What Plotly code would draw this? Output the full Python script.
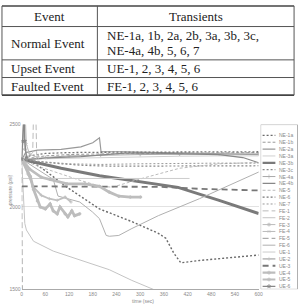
import plotly.graph_objects as go

W, H = 302, 308
def PX(x): return x / W
def PY(y): return 1 - y / H

# ---------------- table data ----------------
table_header = ["Event", "Transients"]
event_names = ["Normal Event", "Upset Event", "Faulted Event"]
transient_text = [["NE-1a, 1b, 2a, 2b, 3a, 3b, 3c,", "NE-4a, 4b, 5, 6, 7"],
                  ["UE-1, 2, 3, 4, 5, 6"],
                  ["FE-1, 2, 3, 4, 5, 6"]]

# ---------------- chart data ----------------
x_ticks = [0, 60, 120, 180, 240, 300, 360, 420, 480, 540, 600]
y_ticks = [1500, 2000, 2500]

names = ["NE-1a", "NE-1b", "NE-2a", "NE-3a", "NE-3b", "NE-3c", "NE-4a", "NE-4b",
         "NE-5", "NE-6", "NE-7", "FE-1", "FE-2", "FE-3", "FE-4", "FE-5", "FE-6",
         "UE-1", "UE-2", "UE-3", "UE-4", "UE-5", "UE-6"]

t_ne1a = [0, 30, 60, 115, 197, 279, 346, 365, 385, 403, 450, 500, 550, 600]
p_ne1a = [2290, 2268, 2220, 2119, 1988, 1911, 1840, 1810, 1720, 1661, 1675, 1685, 1695, 1708]
t_ne1b = [0, 30, 60, 120, 200, 300, 400, 500, 600]
p_ne1b = [2285, 2300, 2310, 2318, 2322, 2325, 2328, 2330, 2330]
t_ne2a = [0, 10, 40, 100, 150, 180, 197, 201, 260, 360, 460, 600]
p_ne2a = [2285, 2330, 2345, 2350, 2365, 2390, 2420, 2335, 2335, 2330, 2325, 2318]
t_ne3a = [0, 100, 200, 300, 400, 500, 600]
p_ne3a = [2290, 2295, 2300, 2305, 2308, 2310, 2310]
t_ne3b = [0, 100, 197, 300, 396, 500, 600]
p_ne3b = [2290, 2235, 2190, 2155, 2119, 2040, 1960]
t_ne3c = [0, 40, 100, 160, 220, 300, 400, 500, 600]
p_ne3c = [2285, 2275, 2262, 2252, 2248, 2248, 2248, 2250, 2250]
t_ne4a = [0, 60, 120, 200, 300, 400, 500, 600]
p_ne4a = [2285, 2300, 2310, 2315, 2318, 2320, 2322, 2322]
t_ne4b = [0, 30, 80, 150, 220, 260, 300, 400, 500, 560, 600]
p_ne4b = [2285, 2290, 2300, 2305, 2318, 2327, 2328, 2325, 2318, 2300, 2268]
t_ne5 = [0, 50, 100, 150, 200, 230, 300, 400, 500, 600]
p_ne5 = [2285, 2240, 2200, 2160, 2125, 2120, 2170, 2235, 2262, 2270]
t_ne6 = [0, 20, 60, 120, 200, 300, 400, 500, 600]
p_ne6 = [2285, 2310, 2325, 2330, 2332, 2333, 2335, 2335, 2335]
t_ne7 = [0, 50, 120, 200, 300, 400, 500, 600]
p_ne7 = [2290, 2275, 2262, 2258, 2262, 2265, 2266, 2266]
t_fe1 = [0, 15, 28, 30, 36, 38, 50, 70]
p_fe1 = [2290, 2300, 2330, 2560, 2560, 2320, 2300, 2290]
t_fe2 = [0, 4, 8, 12, 30, 80, 154, 222, 279, 339, 360]
p_fe2 = [2290, 2100, 1900, 1860, 1792, 1732, 1673, 1619, 1554, 1494, 1480]
t_fe3 = [0, 3, 5, 8, 15]
p_fe3 = [2290, 2560, 2560, 2350, 2300]
t_fe4 = [0, 6, 9, 12, 20, 40]
p_fe4 = [2290, 2560, 2560, 2380, 2320, 2300]
t_fe5 = [0, 0.5, 1.5]
p_fe5 = [2290, 2125, 1480]
t_fe6 = [0, 40, 80, 92, 147, 179, 197, 214, 222, 246, 279, 346, 450, 602]
p_fe6 = [2290, 2230, 2167, 2066, 2030, 1970, 1929, 1827, 1822, 1827, 1869, 1947, 2050, 2214]
t_ue1 = [0, 425]
p_ue1 = [2173, 2173]
t_ue2 = [0, 15, 30, 50, 70, 90, 110, 125]
p_ue2 = [2290, 2200, 2120, 2070, 2050, 2040, 2060, 2030]
t_ue3 = [0, 100, 200, 300, 350, 450, 600]
p_ue3 = [2125, 2125, 2125, 2125, 2122, 2110, 2100]
t_ue4 = [0, 5, 22, 30, 40, 47, 60, 72, 80, 90, 97, 110, 117, 127, 134, 147]
p_ue4 = [2290, 2268, 2185, 2107, 2036, 2000, 1988, 2018, 1976, 1958, 2000, 1958, 1940, 1976, 1947, 1958]
t_ue5 = [0, 20, 50, 72, 115, 160, 197, 222, 246, 275, 301]
p_ue5 = [2290, 2230, 2180, 2167, 2140, 2140, 2125, 2090, 2065, 2060, 2060]
t_ue6 = [0, 2, 4, 6, 8, 12]
p_ue6 = [2290, 2400, 2560, 2560, 2400, 2300]

series_t = [t_ne1a, t_ne1b, t_ne2a, t_ne3a, t_ne3b, t_ne3c, t_ne4a, t_ne4b, t_ne5, t_ne6, t_ne7,
            t_fe1, t_fe2, t_fe3, t_fe4, t_fe5, t_fe6, t_ue1, t_ue2, t_ue3, t_ue4, t_ue5, t_ue6]
series_p = [p_ne1a, p_ne1b, p_ne2a, p_ne3a, p_ne3b, p_ne3c, p_ne4a, p_ne4b, p_ne5, p_ne6, p_ne7,
            p_fe1, p_fe2, p_fe3, p_fe4, p_fe5, p_fe6, p_ue1, p_ue2, p_ue3, p_ue4, p_ue5, p_ue6]

# style: (color, width, dash, marker symbol or None)
styles = [
    ("#6a6a6a", 1.4, "2px,2px", None),      # NE-1a
    ("#999999", 1.0, "3px,2px", None),      # NE-1b
    ("#999999", 1.2, "solid", None),        # NE-2a
    ("#d0d0d0", 1.0, "solid", None),        # NE-3a
    ("#7a7a7a", 3.0, "solid", None),        # NE-3b
    ("#888888", 1.2, "2px,2px", None),      # NE-3c
    ("#aaaaaa", 1.0, "solid", "cross-thin-open"),  # NE-4a
    ("#888888", 1.2, "solid", None),        # NE-4b
    ("#bbbbbb", 1.0, "3px,2px", None),      # NE-5
    ("#777777", 1.3, "2px,2px", None),      # NE-6
    ("#999999", 1.0, "2px,2px", None),      # NE-7
    ("#bbbbbb", 1.0, "6px,3px", None),      # FE-1
    ("#c4c4c4", 1.0, "solid", None),        # FE-2
    ("#bbbbbb", 1.0, "solid", "circle"),    # FE-3
    ("#bbbbbb", 1.0, "solid", "x-thin-open"),  # FE-4
    ("#999999", 1.0, "6px,3px", None),      # FE-5
    ("#b0b0b0", 1.0, "solid", None),        # FE-6
    ("#cccccc", 1.0, "solid", None),        # UE-1
    ("#c0c0c0", 1.8, "solid", "cross-thin-open"),  # UE-2
    ("#777777", 1.8, "6px,4px", None),      # UE-3
    ("#bdbdbd", 2.8, "solid", "circle"),    # UE-4
    ("#bdbdbd", 2.8, "solid", "circle"),    # UE-5
    ("#888888", 1.3, "solid", "star"),      # UE-6
]

fig = go.Figure()

# ---- main chart traces ----
for name, t, p, (c, w, d, m) in zip(names, series_t, series_p, styles):
    mode = "lines+markers" if m else "lines"
    fig.add_trace(go.Scatter(
        x=t, y=p, mode=mode, name=name, showlegend=False,
        line=dict(color=c, width=w, dash=d),
        marker=dict(symbol=m or "circle", size=2.5, color=c, line=dict(color=c, width=0.8)),
        xaxis="x", yaxis="y", cliponaxis=True))

# ---- custom legend (drawn in a second axis) ----
for i, (name, (c, w, d, m)) in enumerate(zip(names, styles)):
    lw = min(w, 2.2)
    fig.add_trace(go.Scatter(
        x=[2, 8.5, 15], y=[i, i, i], mode="lines+markers" if m else "lines",
        showlegend=False, hoverinfo="skip",
        line=dict(color=c, width=lw, dash=d),
        marker=dict(symbol=m or "circle", size=[0, 3, 0], color=c, line=dict(color=c, width=0.8)),
        xaxis="x2", yaxis="y2"))

annotations = []
shapes = []
for i, name in enumerate(names):
    annotations.append(dict(x=16.5, y=i, xref="x2", yref="y2", text=name, showarrow=False,
                            xanchor="left", yanchor="middle",
                            font=dict(family="Liberation Sans", size=5, color="#8a8a8a")))
shapes.append(dict(type="rect", xref="x2", yref="y2", x0=0, x1=37.5, y0=-1.57, y1=22.43,
                   line=dict(color="#b0b0b0", width=1)))

# ---- table (shapes + text) ----
tbl_l, tbl_div, tbl_r = 1, 98, 298
row_lines = [3, 24, 58, 76, 94]
line_col = "#555555"
for k, y in enumerate(row_lines):
    shapes.append(dict(type="line", xref="paper", yref="paper",
                       x0=PX(tbl_l), x1=PX(tbl_r), y0=PY(y), y1=PY(y),
                       line=dict(color="#444444" if k in (0, 4) else line_col,
                                 width=1.6 if k in (0, 4) else 1)))
for x in (tbl_l, tbl_div, tbl_r):
    shapes.append(dict(type="line", xref="paper", yref="paper",
                       x0=PX(x), x1=PX(x), y0=PY(row_lines[0]), y1=PY(row_lines[-1]),
                       line=dict(color=line_col, width=1)))

tfont = dict(family="Liberation Serif", size=13, color="#222222")
annotations.append(dict(x=PX((tbl_l + tbl_div) / 2), y=PY(14), xref="paper", yref="paper",
                        text=table_header[0], showarrow=False, xanchor="center", yanchor="middle", font=tfont))
annotations.append(dict(x=PX((tbl_div + tbl_r) / 2), y=PY(14), xref="paper", yref="paper",
                        text=table_header[1], showarrow=False, xanchor="center", yanchor="middle", font=tfont))
row_centers = [41, 67, 85]
for name, lines, yc in zip(event_names, transient_text, row_centers):
    annotations.append(dict(x=PX(8), y=PY(yc), xref="paper", yref="paper", text=name,
                            showarrow=False, xanchor="left", yanchor="middle", font=tfont))
    if len(lines) == 2:
        ys = [yc - 8, yc + 7]
    else:
        ys = [yc]
    for ln, yy in zip(lines, ys):
        annotations.append(dict(x=PX(106), y=PY(yy), xref="paper", yref="paper", text=ln,
                                showarrow=False, xanchor="left", yanchor="middle", font=tfont))

# axis titles
afont = dict(family="Liberation Sans", size=5, color="#8a8a8a")
annotations.append(dict(x=PX(5), y=PY(208), xref="paper", yref="paper", text="pressure (psi)",
                        textangle=-90, showarrow=False, font=afont))
annotations.append(dict(x=PX(144), y=0, xref="paper", yref="paper", text="time (sec)",
                        showarrow=False, yanchor="bottom", borderpad=0, font=afont))

fig.update_layout(
    width=W, height=H, margin=dict(l=0, r=0, t=0, b=0),
    paper_bgcolor="white", plot_bgcolor="white", showlegend=False,
    xaxis=dict(domain=[PX(21), PX(262)], range=[0, 600], tickvals=x_ticks,
               showgrid=False, zeroline=False, showline=True, linecolor="#aaaaaa", linewidth=1,
               ticks="", tickfont=afont, anchor="y"),
    yaxis=dict(domain=[PY(292), PY(124)], range=[1500, 2500], tickvals=y_ticks,
               showgrid=True, gridcolor="#e2e2e2", gridwidth=1, zeroline=False, showline=False,
               ticks="", tickfont=afont, anchor="x"),
    xaxis2=dict(domain=[PX(264), 1.0], range=[0, 38], visible=False, anchor="y2"),
    yaxis2=dict(domain=[PY(292), PY(124)], range=[22.43, -1.57], visible=False, anchor="x2"),
    annotations=annotations, shapes=shapes,
)

fig.write_html("out.html")
